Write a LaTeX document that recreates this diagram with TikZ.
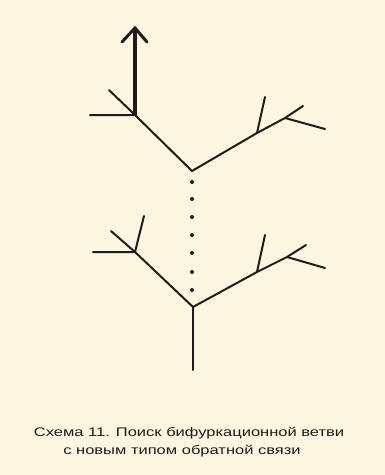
\documentclass[tikz,border=0pt]{standalone}
\usepackage{fontspec}
\setmainfont{Liberation Sans}
\definecolor{bg}{HTML}{FDF6E0}
\definecolor{ink}{HTML}{1E1C18}
\begin{document}
\begin{tikzpicture}[x=1pt,y=-1pt,
  branch/.style={draw=ink,line width=2pt,line cap=round,line join=round},
  thickshaft/.style={draw=ink,line width=3.4pt},
  barbhead/.style={draw=ink,line width=3pt,line cap=round,line join=miter},
  dotmark/.style={circle,fill=ink,inner sep=0pt,minimum size=4pt},
  caption/.style={font=\fontsize{12.5}{15}\selectfont,text=ink,align=center,xscale=1.32}]
\fill[bg] (0,0) rectangle (385,475);
\useasboundingbox (0,0) rectangle (385,475);
% upper tree
\coordinate (u0) at (192,171);
\coordinate (uL) at (135,115);
\coordinate (uLh) at (90,115);
\coordinate (uLd) at (109,90);
\coordinate (uA) at (135,28);
\coordinate (uAl) at (122,42);
\coordinate (uAr) at (147,42);
\coordinate (uR) at (257,133);
\coordinate (uRu) at (265,97);
\coordinate (uR2) at (285,118);
\coordinate (uR2u) at (303,106);
\coordinate (uR2d) at (325,129);
\draw[branch] (uL) -- (u0) -- (uR) -- (uR2) -- (uR2d);
\draw[branch] (uLh) -- (uL) -- (uLd);
\draw[branch] (uR) -- (uRu);
\draw[branch] (uR2) -- (uR2u);
\draw[thickshaft] (uL) -- (uA);
\draw[barbhead] (uAl) -- (uA) -- (uAr);
% dots
\foreach \y [count=\i] in {182,199,217,235,253,272,290}
  \node[dotmark] (d\i) at (192,\y) {};
% lower tree
\coordinate (l0) at (193,307);
\coordinate (lS) at (193,370);
\coordinate (lL) at (135,252);
\coordinate (lLh) at (93,252);
\coordinate (lLd) at (111,231);
\coordinate (lLu) at (144,216);
\coordinate (lR) at (257,272);
\coordinate (lRu) at (265,235);
\coordinate (lR2) at (287,257);
\coordinate (lR2u) at (306,245);
\coordinate (lR2d) at (325,268);
\draw[branch] (lL) -- (l0) -- (lR) -- (lR2) -- (lR2d);
\draw[branch] (l0) -- (lS);
\draw[branch] (lLh) -- (lL) -- (lLd);
\draw[branch] (lL) -- (lLu);
\draw[branch] (lR) -- (lRu);
\draw[branch] (lR2) -- (lR2u);
% caption
\node[caption] (cap1) at (189,433) {Схема 11. Поиск бифуркационной ветви};
\node[caption] (cap2) at (182,451) {с новым типом обратной связи};
\end{tikzpicture}
\end{document}
